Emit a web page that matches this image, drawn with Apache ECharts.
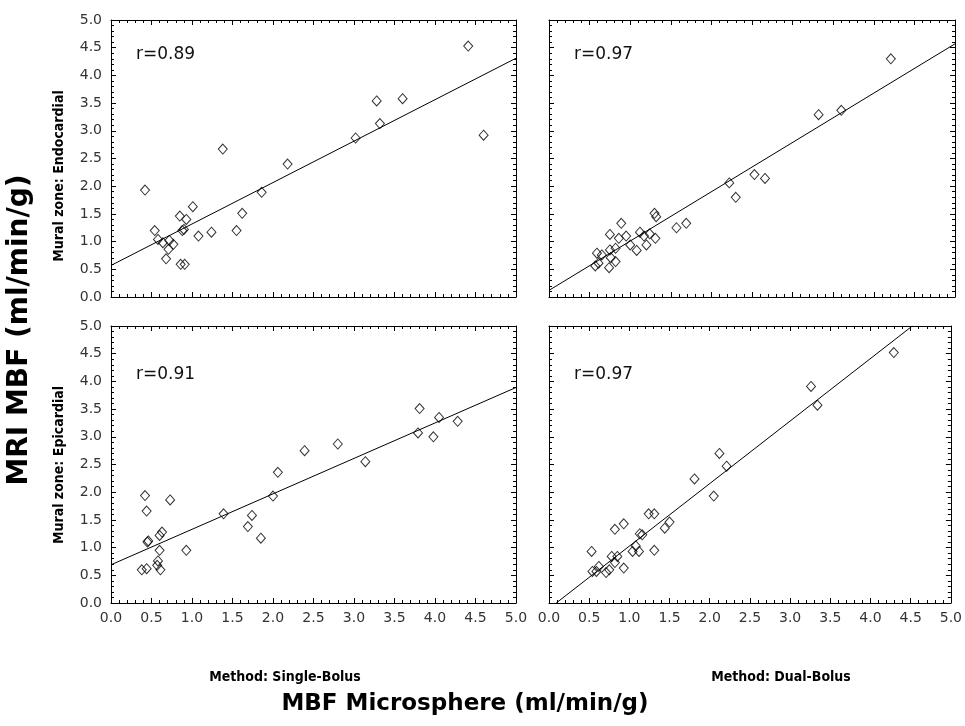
<!DOCTYPE html>
<html>
<head>
<meta charset="utf-8">
<script src="https://cdn.jsdelivr.net/npm/echarts@6/dist/echarts.min.js"></script>
<style>
  html, body { margin: 0; padding: 0; background: #fff; }
  #chart { width: 965px; height: 726px; }
</style>
</head>
<body>
<div id="chart"></div>
<script>
// tick labels shared by every panel
var tickLabels = ['0.0', '0.5', '1.0', '1.5', '2.0', '2.5', '3.0', '3.5', '4.0', '4.5', '5.0'];

// panel labels
var rowNames = ['Mural zone: Endocardial', 'Mural zone: Epicardial'];
var colNames = ['Method: Single-Bolus', 'Method: Dual-Bolus'];
var rValues = ['r=0.89', 'r=0.97', 'r=0.91', 'r=0.97'];

// endocardial, single bolus  [microsphere, MRI]
var endoSingle = [
  [4.41, 4.53], [4.60, 2.92], [3.28, 3.54], [3.60, 3.58], [3.32, 3.13], [3.02, 2.87],
  [1.38, 2.67], [2.18, 2.40], [1.86, 1.89], [0.42, 1.93], [1.01, 1.63], [1.62, 1.51],
  [0.85, 1.46], [0.93, 1.40], [0.90, 1.22], [0.88, 1.20], [1.55, 1.20], [1.24, 1.17],
  [1.08, 1.10], [0.54, 1.20], [0.58, 1.04], [0.64, 0.98], [0.72, 1.02], [0.77, 0.95],
  [0.71, 0.86], [0.68, 0.69], [0.86, 0.59], [0.91, 0.59]
];
// endocardial, dual bolus
var endoDual = [
  [4.21, 4.30], [3.32, 3.29], [3.60, 3.37], [2.22, 2.06], [2.53, 2.21], [2.66, 2.14],
  [2.30, 1.80], [1.57, 1.25], [1.69, 1.33], [1.30, 1.51], [1.32, 1.45], [0.89, 1.33],
  [0.75, 1.13], [0.86, 1.06], [0.95, 1.10], [1.12, 1.17], [1.24, 1.14], [1.17, 1.10],
  [1.31, 1.06], [1.00, 0.94], [1.20, 0.94], [1.08, 0.84], [0.82, 0.88], [0.75, 0.85],
  [0.59, 0.79], [0.65, 0.76], [0.76, 0.71], [0.82, 0.64], [0.74, 0.53], [0.57, 0.56],
  [0.61, 0.61]
];
// epicardial, single bolus
var epiSingle = [
  [3.81, 3.51], [3.79, 3.07], [4.05, 3.35], [3.98, 3.00], [4.28, 3.28], [3.14, 2.55],
  [2.80, 2.87], [2.39, 2.75], [2.06, 2.36], [2.00, 1.93], [1.39, 1.61], [1.74, 1.58],
  [1.69, 1.38], [1.85, 1.17], [0.42, 1.94], [0.44, 1.66], [0.73, 1.86], [0.63, 1.28],
  [0.60, 1.22], [0.46, 1.12], [0.45, 1.10], [0.60, 0.95], [0.93, 0.95], [0.58, 0.76],
  [0.57, 0.68], [0.61, 0.60], [0.38, 0.60], [0.44, 0.62]
];
// epicardial, dual bolus
var epiDual = [
  [4.29, 4.52], [3.26, 3.91], [3.34, 3.57], [2.12, 2.70], [2.21, 2.47], [1.81, 2.24],
  [2.05, 1.93], [1.24, 1.61], [1.31, 1.61], [1.50, 1.46], [1.44, 1.35], [0.93, 1.43],
  [0.82, 1.33], [1.13, 1.25], [1.16, 1.23], [1.08, 1.03], [1.04, 0.93], [1.12, 0.93],
  [1.31, 0.95], [0.53, 0.93], [0.78, 0.84], [0.85, 0.84], [0.82, 0.73], [0.93, 0.63],
  [0.62, 0.66], [0.54, 0.57], [0.59, 0.57], [0.71, 0.55], [0.75, 0.60]
];

// regression line end points per panel
var fitEndoSingle = [[0, 0.57], [5, 4.31]];
var fitEndoDual = [[0, 0.12], [5, 4.57]];
var fitEpiSingle = [[0, 0.69], [5, 3.89]];
var fitEpiDual = [[0.09, 0], [4.52, 5.0]];

var panels = [endoSingle, endoDual, epiSingle, epiDual];
var fits = [fitEndoSingle, fitEndoDual, fitEpiSingle, fitEpiDual];

var chart = echarts.init(document.getElementById('chart'));

var gridPos = [
  {left: 111, top: 20, width: 405, height: 277},
  {left: 549, top: 20, width: 406, height: 277},
  {left: 111, top: 326, width: 405, height: 277},
  {left: 549, top: 326, width: 406, height: 277}
];

var SANS = '"DejaVu Sans", "Liberation Sans", Arial, sans-serif';
var COND = '"DejaVu Sans Condensed", "DejaVu Sans", sans-serif';

function fmt(v) { return tickLabels[Math.round(v * 2)]; }

function makeAxis(gi, pos, showLabel) {
  return {
    type: 'value',
    gridIndex: gi,
    position: pos,
    min: 0, max: 5, interval: 0.5,
    axisLine: {show: true, onZero: false, lineStyle: {color: '#000', width: 1}},
    axisTick: {show: true, inside: true, length: 5, lineStyle: {color: '#000'}},
    minorTick: {show: true, splitNumber: 5, length: 3, lineStyle: {color: '#000'}},
    splitLine: {show: false},
    axisLabel: {
      show: showLabel, formatter: fmt,
      margin: (pos === 'bottom') ? 8 : 9,
      color: '#333', fontSize: 14, fontFamily: SANS
    }
  };
}

var xAxes = [], yAxes = [], series = [], graphics = [];
for (var i = 0; i < 4; i++) {
  var isLeft = i % 2 === 0;
  var isBottom = i >= 2;
  xAxes.push(makeAxis(i, 'bottom', isBottom));
  xAxes.push(makeAxis(i, 'top', false));
  yAxes.push(makeAxis(i, 'left', isLeft));
  yAxes.push(makeAxis(i, 'right', false));
  series.push({
    type: 'scatter',
    xAxisIndex: i * 2, yAxisIndex: i * 2,
    symbol: 'diamond',
    symbolSize: [9, 10],
    itemStyle: {color: 'rgba(255,255,255,0)', borderColor: '#000', borderWidth: 1},
    data: panels[i],
    z: 3
  });
  series.push({
    type: 'line',
    xAxisIndex: i * 2, yAxisIndex: i * 2,
    symbol: 'none',
    lineStyle: {color: '#000', width: 1},
    data: fits[i],
    z: 2
  });
  graphics.push({
    type: 'text',
    x: gridPos[i].left + 25,
    y: gridPos[i].top + (isBottom ? 49 : 35),
    style: {
      text: rValues[i],
      fill: '#111',
      font: '17px ' + SANS,
      align: 'left', verticalAlign: 'middle'
    }
  });
}

// row labels (rotated)
graphics.push({
  type: 'text', x: 59, y: 176, rotation: Math.PI / 2,
  style: {text: rowNames[0], fill: '#000', align: 'center', verticalAlign: 'middle',
    font: 'bold 14px ' + COND}
});
graphics.push({
  type: 'text', x: 59, y: 465, rotation: Math.PI / 2,
  style: {text: rowNames[1], fill: '#000', align: 'center', verticalAlign: 'middle',
    font: 'bold 14px ' + COND}
});
// overall y title
graphics.push({
  type: 'text', x: 20, y: 330, rotation: Math.PI / 2,
  style: {text: 'MRI MBF (ml/min/g)', fill: '#000', align: 'center', verticalAlign: 'middle',
    font: 'bold 28px ' + SANS}
});
// column labels
graphics.push({
  type: 'text', x: 285, y: 677,
  style: {text: colNames[0], fill: '#000', align: 'center', verticalAlign: 'middle',
    font: 'bold 14px ' + COND}
});
graphics.push({
  type: 'text', x: 781, y: 677,
  style: {text: colNames[1], fill: '#000', align: 'center', verticalAlign: 'middle',
    font: 'bold 14px ' + COND}
});
// overall x title
graphics.push({
  type: 'text', x: 465, y: 704,
  style: {text: 'MBF Microsphere (ml/min/g)', fill: '#000', align: 'center', verticalAlign: 'middle',
    font: 'bold 23px ' + SANS}
});

chart.setOption({
  backgroundColor: '#fff',
  animation: false,
  grid: gridPos,
  xAxis: xAxes,
  yAxis: yAxes,
  series: series,
  graphic: graphics
});
</script>
</body>
</html>
